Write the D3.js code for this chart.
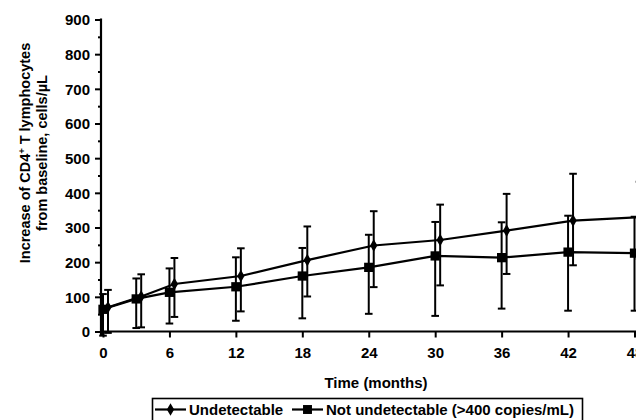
<!DOCTYPE html>
<html>
<head>
<meta charset="utf-8">
<script src="https://cdn.jsdelivr.net/npm/d3@7"></script>
<style>
  body { margin: 0; background: #fff; }
  svg { display: block; font-family: "Liberation Sans", Arial, sans-serif; font-weight: bold; }
  .tick text { font-size: 15px; font-weight: bold; fill: #000; }
</style>
</head>
<body>
<svg id="chart"></svg>
<script>
const width = 636;
const height = 420;

// months on the x axis
const months = [0, 3, 6, 12, 18, 24, 30, 36, 42, 48];
const xTicks = [0, 6, 12, 18, 24, 30, 36, 42, 48];
const yTicks = [0, 100, 200, 300, 400, 500, 600, 700, 800, 900];

// Undetectable (diamonds)
const undetMean = [70, 101, 137, 160, 206, 248, 264, 291, 320, 330];
const undetLow  = [-4, 12, 42, 58, 101, 128, 133, 166, 191, 210];
const undetHigh = [120, 165, 212, 240, 303, 347, 366, 397, 455, 432];

// Not undetectable (>400 copies/mL) (squares)
const notMean = [64, 94, 113, 129, 160, 185, 218, 213, 229, 226];
const notLow  = [-12, 10, 23, 31, 38, 51, 45, 66, 60, 60];
const notHigh = [108, 153, 182, 214, 241, 279, 316, 315, 334, 331];

const shift = 0.45; // diamonds sit a bit right of the tick

const svg = d3.select("#chart").attr("width", width).attr("height", height);

const x = d3.scaleLinear().domain([0, 48]).range([103, 634.5]);
const y = d3.scaleLinear().domain([0, 900]).range([331.5, 19.5]);

// y axis
const yAxis = svg.append("g").attr("transform", "translate(101,0)")
  .call(d3.axisLeft(y).tickValues(yTicks).tickSize(6).tickSizeOuter(0).tickPadding(5));
yAxis.select(".domain").remove();
yAxis.selectAll(".tick line").attr("stroke-width", 2);
yAxis.selectAll(".tick text").attr("dy", "0.36em");
// minor ticks
svg.append("g").attr("transform", "translate(101,0)")
  .call(d3.axisLeft(y).tickValues(d3.range(50, 900, 100)).tickSize(3).tickFormat(""))
  .call(g => g.select(".domain").remove())
  .selectAll("line").attr("stroke-width", 2);
svg.append("line")
  .attr("x1", 101).attr("x2", 101)
  .attr("y1", y(900) - 1).attr("y2", y(0) + 4)
  .attr("stroke", "#000").attr("stroke-width", 2.2);

// x axis
const xAxis = svg.append("g").attr("transform", `translate(0,${y(0)})`)
  .call(d3.axisBottom(x).tickValues(xTicks).tickSize(6).tickSizeOuter(0).tickPadding(10));
xAxis.select(".domain").attr("d", `M100,0H${width + 10}`).attr("stroke-width", 2.2);
xAxis.selectAll(".tick line").attr("stroke-width", 2);

// axis titles
svg.append("text")
  .attr("x", 376).attr("y", 388)
  .attr("text-anchor", "middle").attr("font-size", 15)
  .text("Time (months)");

const yTitle = svg.append("text")
  .attr("transform", "translate(30,153) rotate(-90)")
  .attr("text-anchor", "middle").attr("font-size", 14.5);
yTitle.append("tspan").attr("x", 0).attr("y", 0).text("Increase of CD4");
yTitle.append("tspan").attr("font-size", 9).attr("dy", -5).text("+");
yTitle.append("tspan").attr("dy", 5).text(" T lymphocytes");
yTitle.append("tspan").attr("x", 0).attr("y", 16.5).text("from baseline, cells/µL");

// series
const series = [
  { key: "not", mean: notMean, low: notLow, high: notHigh, dx: 0, shape: d3.symbolSquare, size: 86 },
  { key: "undet", mean: undetMean, low: undetLow, high: undetHigh, dx: shift, shape: d3.symbolDiamond, size: 46 }
];

const line = d3.line();

series.forEach(s => {
  const pts = months.map((m, i) => ({ m: m + s.dx, v: s.mean[i], lo: s.low[i], hi: s.high[i] }));
  const g = svg.append("g");

  g.selectAll("line.err").data(pts).enter().append("line").attr("class", "err")
    .attr("x1", d => x(d.m)).attr("x2", d => x(d.m))
    .attr("y1", d => y(d.lo)).attr("y2", d => y(d.hi))
    .attr("stroke", "#000").attr("stroke-width", 2);
  ["lo", "hi"].forEach(k => {
    g.selectAll("line.cap-" + k).data(pts).enter().append("line").attr("class", "cap-" + k)
      .attr("x1", d => x(d.m) - 3.8).attr("x2", d => x(d.m) + 3.8)
      .attr("y1", d => y(d[k])).attr("y2", d => y(d[k]))
      .attr("stroke", "#000").attr("stroke-width", 2);
  });

  g.append("path")
    .attr("d", line(pts.map(d => [x(d.m), y(d.v)])))
    .attr("fill", "none").attr("stroke", "#000").attr("stroke-width", 2.2);

  g.selectAll("path.pt").data(pts).enter().append("path").attr("class", "pt")
    .attr("transform", d => `translate(${x(d.m)},${y(d.v)})`)
    .attr("d", d3.symbol().type(s.shape).size(s.size))
    .attr("fill", "#000");
});

// legend
const legend = svg.append("g");
legend.append("rect")
  .attr("x", 152.5).attr("y", 398.5).attr("width", 430).attr("height", 30)
  .attr("fill", "#fff").attr("stroke", "#000").attr("stroke-width", 1.6);

const legendItems = [
  { label: "Undetectable", shape: d3.symbolDiamond, size: 46, x0: 155 },
  { label: "Not undetectable (>400 copies/mL)", shape: d3.symbolSquare, size: 80, x0: 292 }
];
legendItems.forEach(it => {
  legend.append("line")
    .attr("x1", it.x0).attr("x2", it.x0 + 31).attr("y1", 409.5).attr("y2", 409.5)
    .attr("stroke", "#000").attr("stroke-width", 2.2);
  legend.append("path")
    .attr("transform", `translate(${it.x0 + 15.5},409.5)`)
    .attr("d", d3.symbol().type(it.shape).size(it.size)).attr("fill", "#000");
  legend.append("text")
    .attr("x", it.x0 + 34).attr("y", 414.5).attr("font-size", 15)
    .text(it.label);
});
</script>
</body>
</html>
